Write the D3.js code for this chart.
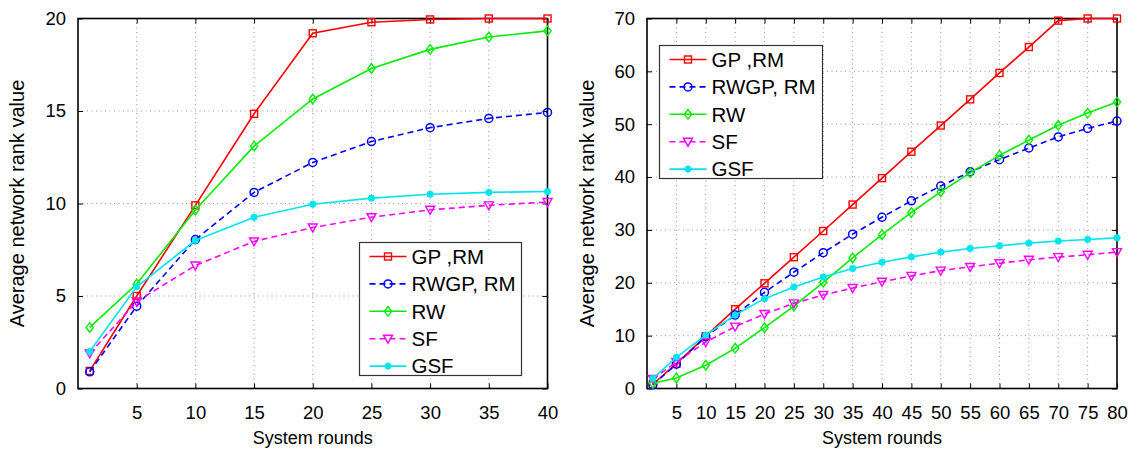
<!DOCTYPE html>
<html>
<head>
<meta charset="utf-8">
<script src="https://cdn.jsdelivr.net/npm/d3@7/dist/d3.min.js"></script>
<style>
  body { margin: 0; background: #fff; }
  svg { display: block; }
  text { font-family: "Liberation Sans", Arial, sans-serif; fill: #000; }
</style>
</head>
<body>
<svg id="chart" width="1137" height="450"></svg>
<script>
// ---------- DATA ----------
const seriesNames = ["GP ,RM", "RWGP, RM", "RW", "SF", "GSF"];

const leftRounds = [1, 5, 10, 15, 20, 25, 30, 35, 40];
const leftGP   = [0.95, 5.0, 9.9, 14.85, 19.2, 19.8, 19.95, 20.0, 20.0];
const leftRWGP = [0.9, 4.45, 8.05, 10.6, 12.22, 13.35, 14.1, 14.6, 14.92];
const leftRW   = [3.3, 5.65, 9.65, 13.1, 15.65, 17.3, 18.33, 19.0, 19.33];
const leftSF   = [1.9, 4.7, 6.65, 7.95, 8.7, 9.26, 9.66, 9.9, 10.08];
const leftGSF  = [2.0, 5.5, 8.0, 9.26, 9.96, 10.29, 10.5, 10.6, 10.65];
const leftXTicks = [5, 10, 15, 20, 25, 30, 35, 40];
const leftYTicks = [0, 5, 10, 15, 20];

const rightRounds = [1, 5, 10, 15, 20, 25, 30, 35, 40, 45, 50, 55, 60, 65, 70, 75, 80];
const rightGP   = [0.8, 4.7, 9.9, 15.0, 19.9, 24.85, 29.8, 34.8, 39.8, 44.8, 49.75, 54.7, 59.7, 64.6, 69.6, 70.0, 70.0];
const rightRWGP = [0.7, 4.6, 9.8, 13.9, 18.2, 22.0, 25.7, 29.2, 32.4, 35.5, 38.3, 41.0, 43.3, 45.5, 47.6, 49.2, 50.6];
const rightRW   = [1.0, 2.0, 4.4, 7.6, 11.5, 15.6, 20.1, 24.7, 29.1, 33.3, 37.2, 40.8, 44.1, 47.0, 49.8, 52.1, 54.2];
const rightSF   = [1.8, 5.0, 8.8, 11.7, 14.1, 16.1, 17.7, 19.0, 20.2, 21.3, 22.3, 23.0, 23.7, 24.35, 24.85, 25.3, 25.8];
const rightGSF  = [1.9, 5.9, 10.1, 13.9, 17.0, 19.2, 21.1, 22.7, 23.9, 24.9, 25.8, 26.5, 27.0, 27.5, 27.9, 28.2, 28.5];
const rightXTicks = [5, 10, 15, 20, 25, 30, 35, 40, 45, 50, 55, 60, 65, 70, 75, 80];
const rightYTicks = [0, 10, 20, 30, 40, 50, 60, 70];

const xTitle = "System rounds";
const yTitle = "Average network rank value";

// ---------- STYLES ----------
const styles = [
  { color: "#ff0000", dash: null,  marker: "square" },
  { color: "#0000ff", dash: "6,4", marker: "circle" },
  { color: "#00ee00", dash: null,  marker: "diamond" },
  { color: "#ff00ff", dash: "6,4", marker: "triangle" },
  { color: "#00e5ee", dash: null,  marker: "dot" }
];

const svg = d3.select("#chart");

function drawMarker(g, type, color, x, y) {
  if (type === "square") {
    g.append("rect").attr("x", x - 3.5).attr("y", y - 3.5).attr("width", 7).attr("height", 7)
      .attr("fill", "none").attr("stroke", color).attr("stroke-width", 1.4);
  } else if (type === "circle") {
    g.append("circle").attr("cx", x).attr("cy", y).attr("r", 4)
      .attr("fill", "none").attr("stroke", color).attr("stroke-width", 1.5);
  } else if (type === "diamond") {
    g.append("path").attr("d", `M${x},${y-4.8}L${x+3.6},${y}L${x},${y+4.8}L${x-3.6},${y}Z`)
      .attr("fill", "none").attr("stroke", color).attr("stroke-width", 1.4);
  } else if (type === "triangle") {
    g.append("path").attr("d", `M${x-4.5},${y-3.5}L${x+4.5},${y-3.5}L${x},${y+4.5}Z`)
      .attr("fill", "none").attr("stroke", color).attr("stroke-width", 1.4);
  } else if (type === "dot") {
    g.append("circle").attr("cx", x).attr("cy", y).attr("r", 3.2)
      .attr("fill", color).attr("stroke", color).attr("stroke-width", 0.8);
  }
}

function drawChart(cfg) {
  const { left, right, top, bottom, xDomain, yDomain, xTicks, yTicks, rounds, series, legend, yTitleX } = cfg;
  const x = d3.scaleLinear().domain(xDomain).range([left, right]);
  const y = d3.scaleLinear().domain(yDomain).range([bottom, top]);
  const g = svg.append("g");

  // grid
  const grid = g.append("g");
  grid.selectAll("line.gx").data(xTicks.filter(t => t !== xDomain[1])).join("line")
    .attr("x1", d => x(d)).attr("x2", d => x(d)).attr("y1", top).attr("y2", bottom)
    .attr("stroke", "#9a9a9a").attr("stroke-width", 1).attr("stroke-dasharray", "1,3.5");
  grid.selectAll("line.gy").data(yTicks.filter(t => t !== yDomain[0] && t !== yDomain[1])).join("line")
    .attr("x1", left).attr("x2", right).attr("y1", d => y(d)).attr("y2", d => y(d))
    .attr("stroke", "#9a9a9a").attr("stroke-width", 1).attr("stroke-dasharray", "1,3.5");

  // axes
  const fs = 18.5;
  const xa = g.append("g").attr("transform", `translate(0,${bottom})`)
    .call(d3.axisBottom(x).tickValues(xTicks).tickSizeInner(-5).tickSizeOuter(0).tickPadding(17));
  const ya = g.append("g").attr("transform", `translate(${left},0)`)
    .call(d3.axisLeft(y).tickValues(yTicks).tickSizeInner(-5).tickSizeOuter(0).tickPadding(12));
  const xt = g.append("g").attr("transform", `translate(0,${top})`)
    .call(d3.axisTop(x).tickValues(xTicks).tickSizeInner(-5).tickSizeOuter(0).tickFormat(""));
  const yr = g.append("g").attr("transform", `translate(${right},0)`)
    .call(d3.axisRight(y).tickValues(yTicks).tickSizeInner(-5).tickSizeOuter(0).tickFormat(""));
  [xa, ya, xt, yr].forEach(a => {
    a.select(".domain").remove();
    a.selectAll(".tick line").attr("stroke", "#000").attr("stroke-width", 1);
    a.selectAll("text").style("font-size", fs + "px").style("font-family", '"Liberation Sans", Arial, sans-serif');
  });

  // box
  g.append("rect").attr("x", left).attr("y", top).attr("width", right - left).attr("height", bottom - top)
    .attr("fill", "none").attr("stroke", "#000").attr("stroke-width", 1.6);

  // series
  series.forEach((vals, i) => {
    const st = styles[i];
    const pts = rounds.map((r, k) => [r, vals[k]]);
    const line = d3.line().x(d => x(d[0])).y(d => y(d[1]));
    g.append("path").attr("d", line(pts)).attr("fill", "none")
      .attr("stroke", st.color).attr("stroke-width", 1.6)
      .attr("stroke-dasharray", st.dash);
    const mg = g.append("g");
    pts.forEach(p => drawMarker(mg, st.marker, st.color, x(p[0]), y(p[1])));
  });

  // titles
  g.append("text").attr("x", (left + right) / 2).attr("y", 444).attr("text-anchor", "middle")
    .style("font-size", "18px").text(xTitle);
  g.append("text").attr("transform", `translate(${yTitleX},${(top + bottom) / 2}) rotate(-90)`)
    .attr("text-anchor", "middle").style("font-size", "20px").text(yTitle);

  // legend
  const lg = g.append("g");
  lg.append("rect").attr("x", legend.x).attr("y", legend.y).attr("width", legend.w).attr("height", legend.h)
    .attr("fill", "#fff").attr("stroke", "#333").attr("stroke-width", 1.2);
  seriesNames.forEach((name, i) => {
    const st = styles[i];
    const ry = legend.y + 14 + i * 27.4;
    const x0 = legend.x + 10, x1 = legend.x + 47;
    lg.append("line").attr("x1", x0).attr("x2", x1).attr("y1", ry).attr("y2", ry)
      .attr("stroke", st.color).attr("stroke-width", 1.6).attr("stroke-dasharray", st.dash);
    drawMarker(lg, st.marker, st.color, (x0 + x1) / 2, ry);
    lg.append("text").attr("x", legend.x + 52).attr("y", ry).attr("dy", "0.36em")
      .style("font-size", "20.5px").text(name);
  });
}

drawChart({
  left: 78, right: 547.5, top: 18.5, bottom: 388.5,
  xDomain: [0, 40], yDomain: [0, 20], xTicks: leftXTicks, yTicks: leftYTicks,
  rounds: leftRounds, series: [leftGP, leftRWGP, leftRW, leftSF, leftGSF],
  legend: { x: 359.5, y: 242.5, w: 162, h: 133 }, yTitleX: 24
});

drawChart({
  left: 647, right: 1117, top: 18.5, bottom: 388.5,
  xDomain: [0, 80], yDomain: [0, 70], xTicks: rightXTicks, yTicks: rightYTicks,
  rounds: rightRounds, series: [rightGP, rightRWGP, rightRW, rightSF, rightGSF],
  legend: { x: 659.5, y: 45.5, w: 163, h: 133 }, yTitleX: 594
});
</script>
</body>
</html>
